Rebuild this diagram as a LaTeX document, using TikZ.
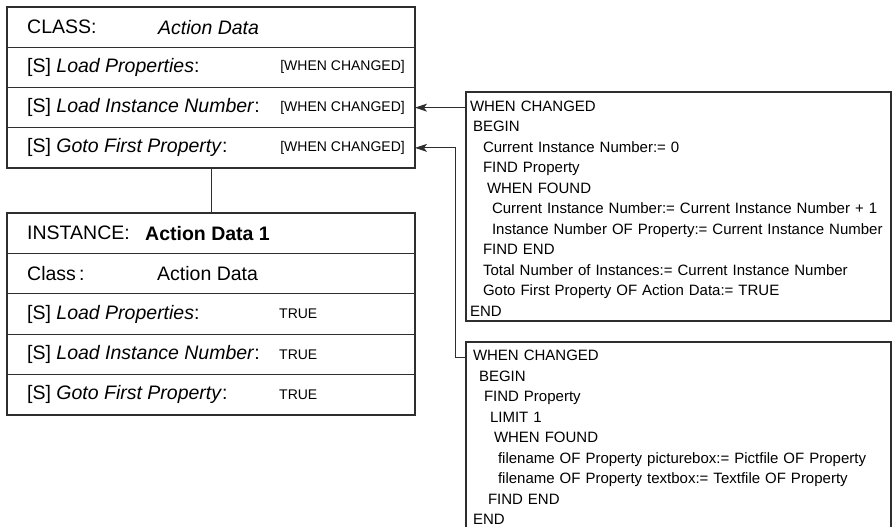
\documentclass[tikz,border=0pt]{standalone}
\usepackage{fontspec}
\setmainfont{Liberation Sans}
\usepackage{tikz}
\usetikzlibrary{arrows.meta, positioning}
\definecolor{framegray}{HTML}{2E2E2E}
\newcommand{\ind}[1]{\hspace*{#1pt}}

\begin{document}
\begin{tikzpicture}[
  x=1pt, y=-1pt,
  row/.style={draw=framegray, line width=1.2pt, minimum width=408pt, minimum height=40.25pt, outer sep=0pt, inner sep=0pt},
  irow/.style={row, minimum height=40.4pt},
  lbl/.style={inner sep=0pt, anchor=west, font=\fontsize{19.5}{22}\selectfont},
  tag/.style={inner sep=0pt, font=\fontsize{14}{16}\selectfont},
  code box/.style={draw=framegray, line width=1.2pt, anchor=north west, outer sep=0pt, text width=417pt, inner xsep=4pt, inner ysep=0pt, align=left, font=\fontsize{15}{20.5}\selectfont},
  link/.style={draw=framegray, line width=1pt},
  arr/.style={link, -{Stealth[length=12pt, width=8pt, inset=3pt]}}
]
\useasboundingbox (0,0) rectangle (895,527);

\node[row, anchor=north west] (cls0) at (7,7) {};
\node[row, below=0pt of cls0] (cls1) {};
\node[row, below=0pt of cls1] (cls2) {};
\node[row, below=0pt of cls2] (cls3) {};

\node[lbl] (clshead) at ([xshift=20pt]cls0.west) {CLASS:};
\node[lbl] (clsname) at ([xshift=151pt]cls0.west) {\textit{Action Data}};
\node[lbl] (clsp1) at ([xshift=20pt]cls1.west) {[S] \textit{Load Properties}:};
\node[tag, anchor=east] (clsv1) at ([xshift=-10pt]cls1.east) {[WHEN CHANGED]};
\node[lbl] (clsp2) at ([xshift=20pt]cls2.west) {[S] \textit{Load Instance Number}:};
\node[tag, anchor=east] (clsv2) at ([xshift=-10pt]cls2.east) {[WHEN CHANGED]};
\node[lbl] (clsp3) at ([xshift=20pt]cls3.west) {[S] \textit{Goto First Property}:};
\node[tag, anchor=east] (clsv3) at ([xshift=-10pt]cls3.east) {[WHEN CHANGED]};

\node[irow, anchor=north west] (ins0) at (7,213) {};
\node[irow, below=0pt of ins0] (ins1) {};
\node[irow, below=0pt of ins1] (ins2) {};
\node[irow, below=0pt of ins2] (ins3) {};
\node[irow, below=0pt of ins3] (ins4) {};

\node[lbl] (inshead) at ([xshift=20pt]ins0.west) {INSTANCE:};
\node[lbl] (insname) at ([xshift=138pt]ins0.west) {\textbf{Action Data 1}};
\node[lbl] (insclass) at ([xshift=20pt]ins1.west) {Class\,:};
\node[lbl] (insclassv) at ([xshift=150pt]ins1.west) {Action Data};
\node[lbl] (insp1) at ([xshift=20pt]ins2.west) {[S] \textit{Load Properties}:};
\node[tag, anchor=west] (insv1) at ([xshift=272pt]ins2.west) {TRUE};
\node[lbl] (insp2) at ([xshift=20pt]ins3.west) {[S] \textit{Load Instance Number}:};
\node[tag, anchor=west] (insv2) at ([xshift=272pt]ins3.west) {TRUE};
\node[lbl] (insp3) at ([xshift=20pt]ins4.west) {[S] \textit{Goto First Property}:};
\node[tag, anchor=west] (insv3) at ([xshift=272pt]ins4.west) {TRUE};

\node[code box, minimum height=229pt] (code1) at (466,92) {
\rule{0pt}{15pt}WHEN CHANGED\\
\ind{3}BEGIN\\
\ind{13}Current Instance Number:= 0\\
\ind{13}FIND Property\\
\ind{17}WHEN FOUND\\
\ind{22}\mbox{Current Instance Number:= Current Instance Number + 1}\\
\ind{22}\mbox{Instance Number OF Property:= Current Instance Number}\\
\ind{13}FIND END\\
\ind{13}\mbox{Total Number of Instances:= Current Instance Number}\\
\ind{13}\mbox{Goto First Property OF Action Data:= TRUE}\\
END};

\node[code box, minimum height=191pt] (code2) at (466,342) {
\ind{3}WHEN CHANGED\\
\ind{9}BEGIN\\
\ind{14}FIND Property\\
\ind{20}LIMIT 1\\
\ind{24}WHEN FOUND\\
\ind{28}\mbox{filename OF Property picturebox:= Pictfile OF Property}\\
\ind{28}\mbox{filename OF Property textbox:= Textfile OF Property}\\
\ind{18}FIND END\\
\ind{3}END};

\coordinate (bend) at (455,357);
\draw[link] (cls3.south) -- (ins0.north);
\draw[arr] (cls2.east -| code1.west) -- (cls2.east);
\draw[arr] (code2.west |- bend) -- (bend) |- (cls3.east);
\end{tikzpicture}
\end{document}
